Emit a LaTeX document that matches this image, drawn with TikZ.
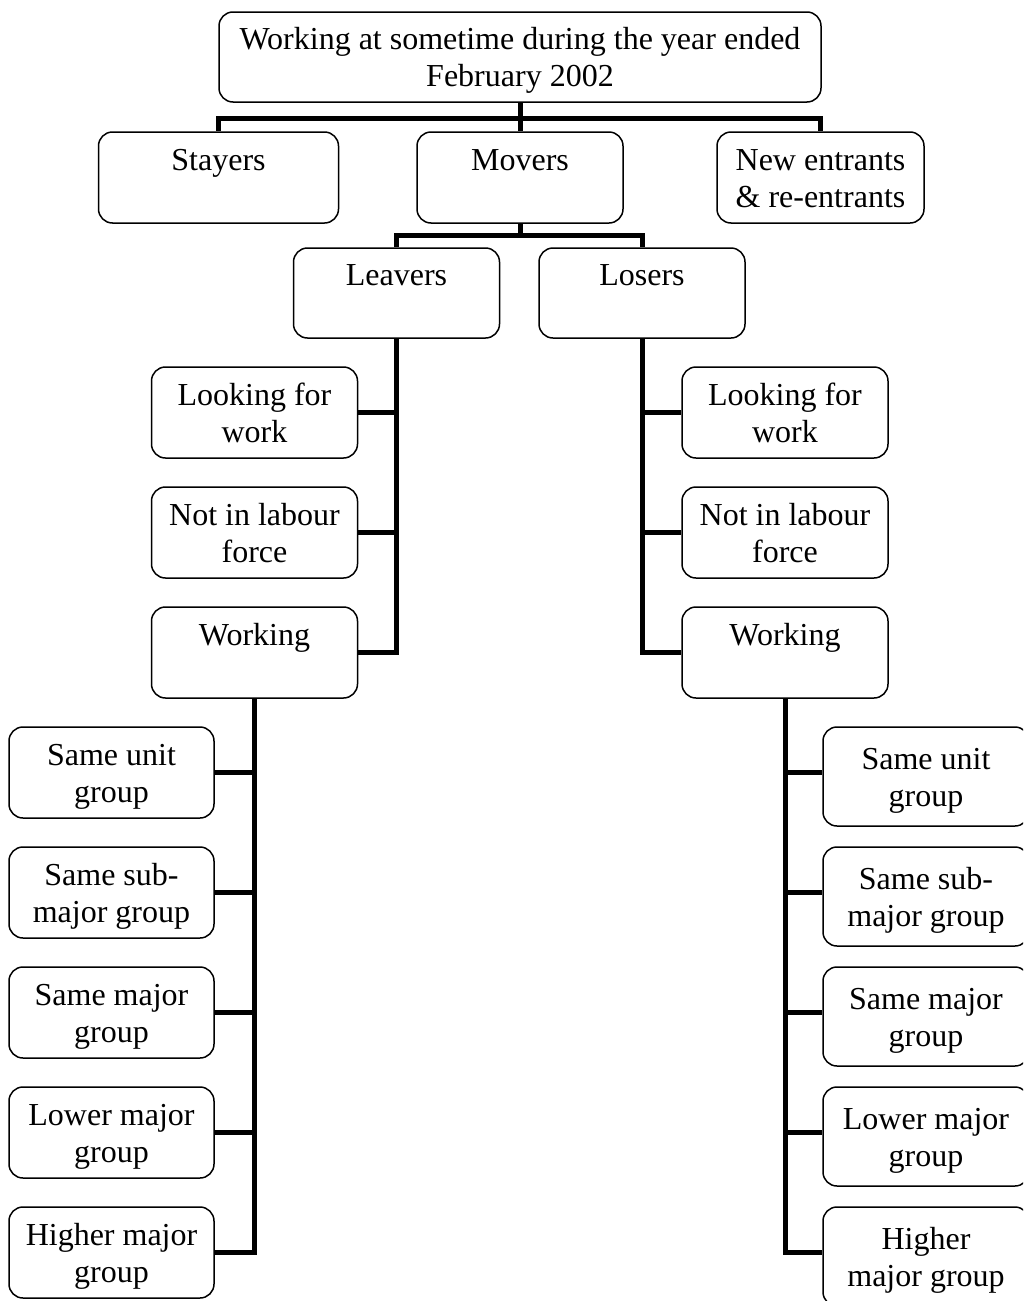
\documentclass[tikz,border=0pt]{standalone}
\usepackage{fontspec}
\setmainfont{Liberation Serif}
\newcommand\boxstrut{\rule[-7.5pt]{0pt}{37pt}}
\begin{document}
\begin{tikzpicture}[x=1pt,y=-1pt,
  box/.style={draw, line width=1.5pt, rounded corners=14pt, align=center, inner sep=0pt,
    font=\fontsize{32}{37}\selectfont, minimum height=91pt, minimum width=206pt},
  link/.style={line width=5pt}]
\useasboundingbox (0,0) rectangle (1023,1301);
\clip (0,0) rectangle (1023,1301);
% level 0
\node[box, minimum width=602pt, minimum height=90pt] (top) at (520,57)
  {Working at sometime during the year ended\boxstrut\\February 2002\boxstrut};
% level 1
\node[box, minimum width=240pt] (stay) at (218.5,177.5) {Stayers\boxstrut\\\boxstrut};
\node[box] (move) at (520,177.5) {Movers\boxstrut\\\boxstrut};
\node[box, minimum width=207pt] (newe) at (820.5,177.5) {New entrants\boxstrut\\\& re-entrants\boxstrut};
% level 2
\node[box, minimum height=90pt] (leav) at (396.5,293) {Leavers\boxstrut\\\boxstrut};
\node[box, minimum height=90pt] (lose) at (642,293) {Losers\boxstrut\\\boxstrut};
% level 3 left
\node[box] (llook) at (254.5,412.5) {Looking for\boxstrut\\work\boxstrut};
\node[box] (lnot) at (254.5,532.5) {Not in labour\boxstrut\\force\boxstrut};
\node[box] (lwork) at (254.5,652.5) {Working\boxstrut\\\boxstrut};
% level 3 right
\node[box] (rlook) at (785,412.5) {Looking for\boxstrut\\work\boxstrut};
\node[box] (rnot) at (785,532.5) {Not in labour\boxstrut\\force\boxstrut};
\node[box] (rwork) at (785,652.5) {Working\boxstrut\\\boxstrut};
% level 4 left
\node[box, minimum width=205pt] (lsu) at (111.5,772.5) {Same unit\boxstrut\\group\boxstrut};
\node[box, minimum width=205pt] (lss) at (111.5,892.5) {Same sub-\boxstrut\\major group\boxstrut};
\node[box, minimum width=205pt] (lsm) at (111.5,1012.5) {Same major\boxstrut\\group\boxstrut};
\node[box, minimum width=205pt] (llm) at (111.5,1132.5) {Lower major\boxstrut\\group\boxstrut};
\node[box, minimum width=205pt] (lhm) at (111.5,1252.5) {Higher major\boxstrut\\group\boxstrut};
% level 4 right
\node[box, minimum height=99pt] (rsu) at (926,776.5) {Same unit\boxstrut\\group\boxstrut};
\node[box, minimum height=99pt] (rss) at (926,896.5) {Same sub-\boxstrut\\major group\boxstrut};
\node[box, minimum height=99pt] (rsm) at (926,1016.5) {Same major\boxstrut\\group\boxstrut};
\node[box, minimum height=99pt] (rlm) at (926,1136.5) {Lower major\boxstrut\\group\boxstrut};
\node[box, minimum height=99pt] (rhm) at (926,1256.5) {Higher\boxstrut\\major group\boxstrut};
% connectors
\coordinate (j0) at (520,118);
\draw[link] (top.south) -- (j0);
\draw[link] (j0) -| (stay.north);
\draw[link] (j0) -| (newe.north);
\draw[link] (j0) -- (move.north);
\coordinate (j1) at (520,235);
\draw[link] (move.south) -- (j1);
\draw[link] (j1) -| (leav.north);
\draw[link] (j1) -| (lose.north);
\foreach \c in {llook,lnot,lwork} \draw[link] (leav.south) |- (\c.east);
\foreach \c in {rlook,rnot,rwork} \draw[link] (lose.south) |- (\c.west);
\foreach \c in {lsu,lss,lsm,llm,lhm} \draw[link] (lwork.south) |- (\c.east);
\foreach \c in {rsu,rss,rsm,rlm,rhm} \draw[link] (rwork.south) |- ([yshift=4.5pt]\c.west);
\end{tikzpicture}
\end{document}
